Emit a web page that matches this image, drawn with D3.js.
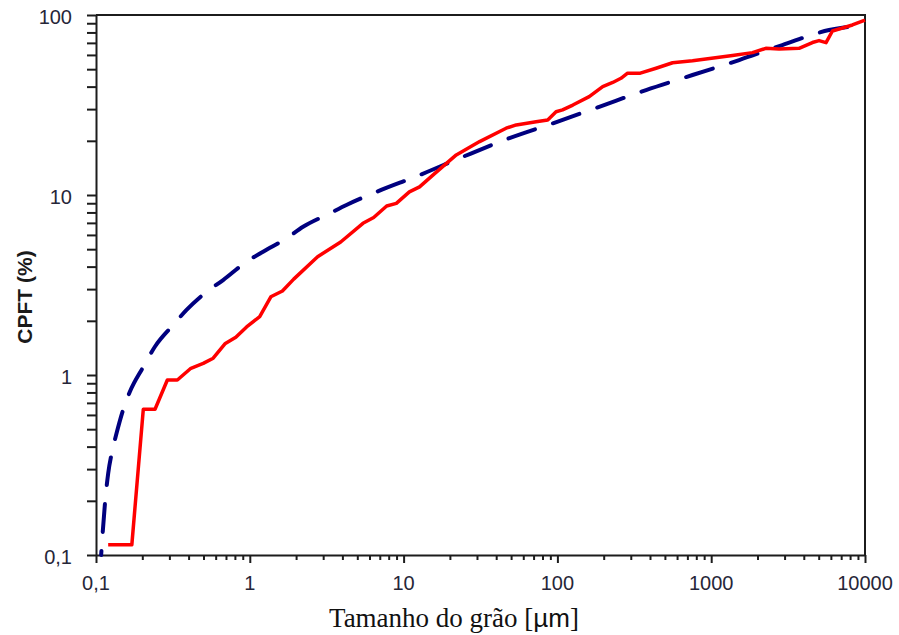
<!DOCTYPE html>
<html>
<head>
<meta charset="utf-8">
<script src="https://cdn.jsdelivr.net/npm/d3@7"></script>
<style>
  html, body { margin: 0; padding: 0; background: #fff; }
  svg { display: block; }
</style>
</head>
<body>
<svg id="chart" width="899" height="635"></svg>
<script>
// Grain size (µm) and cumulative percent finer than (CPFT, %) — measured distribution
const measuredSize = [0.120, 0.171, 0.203, 0.242, 0.291, 0.338, 0.414, 0.498, 0.578, 0.689,
  0.811, 0.953, 1.16, 1.37, 1.63, 1.93, 2.76, 3.90, 5.44, 6.39, 7.76, 8.97, 10.9, 12.7,
  15.5, 22.0, 31.2, 46.4, 54.0, 72.7, 86.5, 98, 108, 126, 161, 197, 229, 259, 286, 346,
  438, 561, 756, 1375, 1855, 2265, 2765, 3725, 4550, 5025, 5580, 6140, 8280, 10000];
const measuredCPFT = [0.114, 0.114, 0.645, 0.645, 0.938, 0.938, 1.09, 1.16, 1.24, 1.49,
  1.62, 1.85, 2.11, 2.72, 2.93, 3.41, 4.54, 5.48, 6.96, 7.50, 8.69, 8.99, 10.4, 11.1,
  12.9, 16.7, 19.8, 23.5, 24.5, 25.5, 26.1, 29.0, 29.7, 31.6, 35.2, 40.0, 42.2, 44.5, 47.5, 47.5,
  50.6, 54.3, 55.7, 59.6, 61.8, 65.3, 64.7, 65.3, 70.3, 72.1, 70.2, 81.5, 88.0, 93.8];

// Theoretical packing curve
const modelSize = [0.108, 0.1144, 0.120, 0.1265, 0.136, 0.150, 0.166, 0.203, 0.242, 0.318,
  0.388, 0.524, 0.671, 0.952, 1.22, 1.73, 2.22, 3.31, 4.25, 6.65, 12.7, 24.3, 48.8, 93.2,
  187, 377, 756, 1520, 2900, 5840, 10000];
const modelCPFT = [0.1, 0.194, 0.284, 0.367, 0.474, 0.639, 0.807, 1.11, 1.44, 1.90,
  2.30, 2.90, 3.37, 4.26, 4.84, 5.74, 6.66, 7.91, 8.80, 10.4, 12.9, 16.3, 20.7, 25.0,
  30.9, 38.3, 46.4, 56.2, 68.1, 82.5, 88.0];

// Axis ticks and labels
const xMajor = [0.1, 1, 10, 100, 1000, 10000];
const xLabels = ["0,1", "1", "10", "100", "1000", "10000"];
const yMajor = [0.1, 1, 10, 100];
const yLabels = ["0,1", "1", "10", "100"];

const svg = d3.select("#chart");
const plotLeft = 96, plotRight = 865, plotTop = 15, plotBottom = 555;

const x = d3.scaleLog().domain([0.1, 10000]).range([plotLeft, plotRight]);
const y = d3.scaleLog().domain([0.1, 100]).range([plotBottom, plotTop]);

const axisColor = "#1c1c1c";
const labelColor = "#262638";
const sans = "'Liberation Sans', Arial, sans-serif";

// Frame (top and right borders)
svg.append("path")
  .attr("d", `M${plotLeft},${plotTop}H${plotRight}V${plotBottom}`)
  .attr("fill", "none").attr("stroke", axisColor).attr("stroke-width", 2);

// X axis
const xAxis = svg.append("g")
  .attr("transform", `translate(0,${plotBottom})`)
  .call(d3.axisBottom(x).tickValues(x.ticks()).tickSize(5).tickSizeOuter(0).tickFormat(""));
xAxis.select(".domain").attr("stroke", axisColor).attr("stroke-width", 2);
xAxis.selectAll(".tick line")
  .attr("stroke", axisColor).attr("stroke-width", 2)
  .attr("y2", d => xMajor.some(m => Math.abs(m - d) / m < 1e-9) ? 8 : 5);

svg.append("g").selectAll("text")
  .data(xMajor)
  .join("text")
  .attr("x", d => x(d))
  .attr("y", 590)
  .attr("text-anchor", "middle")
  .attr("font-family", sans).attr("font-size", 20)
  .attr("fill", labelColor)
  .text((d, i) => xLabels[i]);

// Y axis
const yAxis = svg.append("g")
  .attr("transform", `translate(${plotLeft},0)`)
  .call(d3.axisLeft(y).tickValues(y.ticks()).tickSize(9).tickSizeOuter(0).tickFormat(""));
yAxis.select(".domain").attr("stroke", axisColor).attr("stroke-width", 2);
yAxis.selectAll(".tick line").attr("stroke", axisColor).attr("stroke-width", 2);

svg.append("g").selectAll("text")
  .data(yMajor)
  .join("text")
  .attr("x", 72)
  .attr("y", d => y(d))
  .attr("dy", "0.45em")
  .attr("text-anchor", "end")
  .attr("font-family", sans).attr("font-size", 20)
  .attr("fill", labelColor)
  .text((d, i) => yLabels[i]);

// Axis titles
svg.append("text")
  .attr("transform", "translate(32,297) rotate(-90)")
  .attr("text-anchor", "middle")
  .attr("font-family", sans).attr("font-size", 21).attr("font-weight", "bold")
  .attr("fill", "#1a1a1a")
  .text("CPFT (%)");

const xTitle = svg.append("text")
  .attr("x", 454).attr("y", 627)
  .attr("text-anchor", "middle")
  .attr("font-family", "'Liberation Serif', 'Times New Roman', serif")
  .attr("font-size", 27)
  .attr("fill", "#111");
xTitle.append("tspan").text("Tamanho do grão [");
xTitle.append("tspan").attr("font-family", sans).attr("font-size", 26).text("µm");
xTitle.append("tspan").text("]");

// Curves
const model = modelSize.map((d, i) => [d, modelCPFT[i]]);
const measured = measuredSize.map((d, i) => [d, measuredCPFT[i]]);

svg.append("path")
  .datum(model)
  .attr("fill", "none")
  .attr("stroke", "#00007f")
  .attr("stroke-width", 4)
  .attr("stroke-dasharray", "28,19")
  .attr("stroke-dashoffset", 24)
  .attr("stroke-linecap", "round")
  .attr("d", d3.line().x(d => x(d[0])).y(d => y(d[1])).curve(d3.curveMonotoneX));

svg.append("path")
  .datum(measured)
  .attr("fill", "none")
  .attr("stroke", "#ff0000")
  .attr("stroke-width", 3.5)
  .attr("stroke-linejoin", "round")
  .attr("d", d3.line().x(d => x(d[0])).y(d => y(d[1])));
</script>
</body>
</html>
